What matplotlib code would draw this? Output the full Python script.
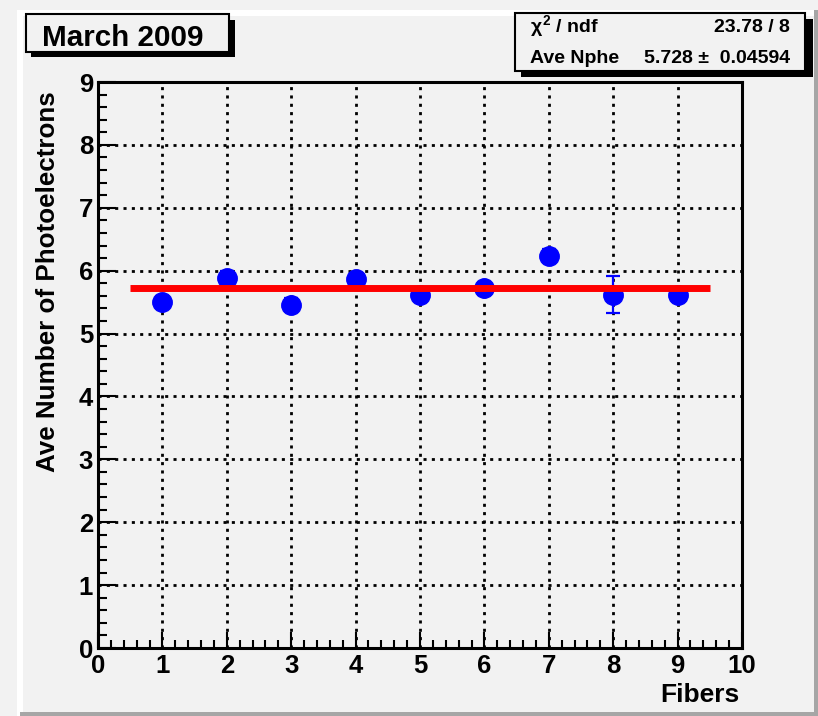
import matplotlib
matplotlib.use("Agg")
import matplotlib.pyplot as plt
from matplotlib.patches import Rectangle
from matplotlib.ticker import MultipleLocator

# ---- data ----
fibers = [1, 2, 3, 4, 5, 6, 7, 8, 9]
ave_nphe = [5.50, 5.89, 5.46, 5.86, 5.62, 5.72, 6.24, 5.62, 5.62]
nphe_err = [0.10, 0.10, 0.10, 0.10, 0.10, 0.10, 0.10, 0.30, 0.10]
fit_value = 5.728
fit_range = [0.5, 9.5]
x_ticks = [0, 1, 2, 3, 4, 5, 6, 7, 8, 9, 10]
y_ticks = [0, 1, 2, 3, 4, 5, 6, 7, 8, 9]
title_text = "March 2009"
stat_labels = [r"$\chi^{2}$ / ndf", "Ave Nphe"]
stat_values = ["23.78 / 8", "5.728 \u00b1  0.04594"]

plt.rcParams['font.family'] = ['Liberation Sans', 'DejaVu Sans']
plt.rcParams['font.weight'] = 'bold'
plt.rcParams['mathtext.fontset'] = 'custom'
plt.rcParams['mathtext.rm'] = 'Liberation Sans'
plt.rcParams['mathtext.it'] = 'Liberation Sans'
plt.rcParams['mathtext.bf'] = 'Liberation Sans:bold'

W, H = 818, 716
BG = '#f2f2f2'
fig = plt.figure(figsize=(W / 100, H / 100), dpi=100, facecolor=BG)


def fx(px):
    return px / W


def fy(py):
    return 1 - py / H


def rect(x0, y0, x1, y1, **kw):
    r = Rectangle((fx(x0), fy(y1)), fx(x1) - fx(x0), fy(y0) - fy(y1),
                  transform=fig.transFigure, **kw)
    fig.add_artist(r)
    return r


# pad bevel border
rect(17, 10, 818, 16, facecolor='white', edgecolor='none', zorder=-2)
rect(17, 10, 23, 716, facecolor='white', edgecolor='none', zorder=-2)
rect(814, 10, 818, 716, facecolor='#a6a6a6', edgecolor='none', zorder=-1)
rect(20, 712, 818, 716, facecolor='#a6a6a6', edgecolor='none', zorder=-1)

# axes
ax = fig.add_axes([fx(98), fy(648), fx(742) - fx(98), fy(82) - fy(648)])
ax.set_facecolor(BG)
ax.set_xlim(x_ticks[0], x_ticks[-1])
ax.set_ylim(y_ticks[0], y_ticks[-1])
ax.set_xticks(x_ticks)
ax.set_yticks(y_ticks)
ax.set_xticklabels([str(v) for v in x_ticks])
ax.set_yticklabels([str(v) for v in y_ticks])
ax.xaxis.set_minor_locator(MultipleLocator(0.2))
ax.yaxis.set_minor_locator(MultipleLocator(0.2))
for s in ax.spines.values():
    s.set_linewidth(2.2)
ax.tick_params(axis='x', which='major', direction='in', length=11.5, width=1.5,
               labelsize=18.5, pad=4.5)
ax.tick_params(axis='x', which='minor', direction='in', length=5.8, width=1.5)
ax.tick_params(axis='y', which='major', direction='in', length=13, width=1.5,
               labelsize=18.5, pad=3.5)
ax.tick_params(axis='y', which='minor', direction='in', length=6.5, width=1.5)
for lab in ax.get_xticklabels() + ax.get_yticklabels():
    lab.set_fontweight('bold')
ax.grid(True, which='major', color='black', linestyle=(0, (1.1, 1.9)), linewidth=2.0)
ax.set_axisbelow(True)

ax.errorbar(fibers, ave_nphe, yerr=nphe_err, fmt='o', color='#0000ff',
            markersize=14, capsize=5, elinewidth=1.6, capthick=1.6, zorder=3)
ax.plot(fit_range, [fit_value, fit_value], color='#ff0000', linewidth=5,
        solid_capstyle='butt', zorder=4)

# axis titles
fig.text(fx(48), fy(91), "Ave Number of Photoelectrons", rotation=90,
         ha='center', va='top', fontsize=18.7, fontweight='bold')
fig.text(fx(739), fy(702), "Fibers", ha='right', va='baseline',
         fontsize=19, fontweight='bold')

# title box
rect(31, 20, 235, 57, facecolor='black', edgecolor='none', zorder=5)
rect(26, 14, 229, 52, facecolor=BG, edgecolor='black', linewidth=1.5, zorder=6)
fig.text(fx(42), fy(46), title_text, ha='left', va='baseline',
         fontsize=21.3, fontweight='bold', zorder=7)

# stats box
rect(521, 19, 813, 77, facecolor='black', edgecolor='none', zorder=5)
rect(515, 13, 805, 71, facecolor=BG, edgecolor='black', linewidth=1.5, zorder=6)
fig.text(fx(530), fy(32), stat_labels[0], ha='left', va='baseline',
         fontsize=14, fontweight='bold', zorder=7)
fig.text(fx(790), fy(32), stat_values[0], ha='right', va='baseline',
         fontsize=14, fontweight='bold', zorder=7)
fig.text(fx(530), fy(63), stat_labels[1], ha='left', va='baseline',
         fontsize=14, fontweight='bold', zorder=7)
fig.text(fx(790), fy(63), stat_values[1], ha='right', va='baseline',
         fontsize=14, fontweight='bold', zorder=7)

fig.savefig("out.png", dpi=100, facecolor=BG)
